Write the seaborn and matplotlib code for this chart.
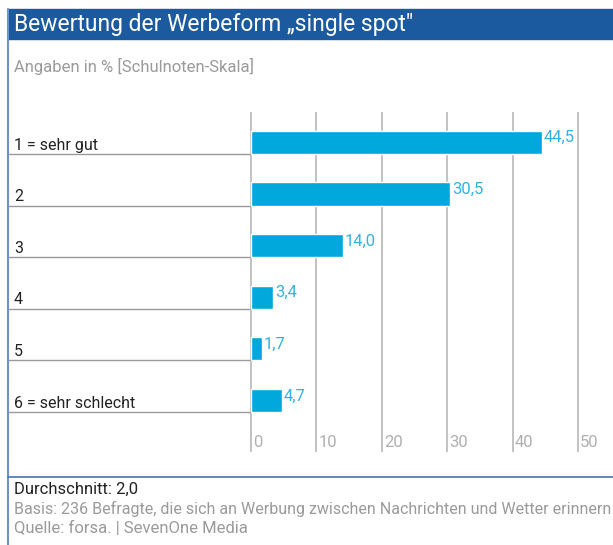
import matplotlib
matplotlib.use("Agg")
import matplotlib.pyplot as plt
import matplotlib.transforms as mtransforms
from matplotlib.patches import Rectangle
from matplotlib.lines import Line2D
import seaborn as sns
import pandas as pd

# data
noten = ["1 = sehr gut", "2", "3", "4", "5", "6 = sehr schlecht"]
anteile = [44.5, 30.5, 14.0, 3.4, 1.7, 4.7]
ticks = [0, 10, 20, 30, 40, 50]

titel = "Bewertung der Werbeform \u201esingle spot\""
untertitel = "Angaben in % [Schulnoten-Skala]"
durchschnitt = "Durchschnitt: 2,0"
basis = "Basis: 236 Befragte, die sich an Werbung zwischen Nachrichten und Wetter erinnern"
quelle = "Quelle: forsa. | SevenOne Media"

sns.set_style("white")
plt.rcParams["font.family"] = ["Roboto", "DejaVu Sans"]

W, H = 613, 545
fig = plt.figure(figsize=(W / 100, H / 100), dpi=100)

bar_col = "#00a8dc"
val_col = "#34b2e4"
band_col = "#1b5a9f"
frame_col = "#6f92cc"

# pixel helpers
def fx(px):
    return px / W

def fy(py):
    return 1 - py / H

# axes: x=0 at px 251, x=50 at px 578
x0_px, x50_px = 251, 578
scale = (x50_px - x0_px) / 50.0
left_px, right_px = 8, W
top_px, bot_px = 112, 452
ax = fig.add_axes([fx(left_px), fy(bot_px), fx(right_px - left_px), (bot_px - top_px) / H])

df = pd.DataFrame({"note": noten, "anteil": anteile})
sns.barplot(data=df, x="anteil", y="note", orient="h", color=bar_col,
            width=0.45, saturation=1, ax=ax, zorder=3)

ax.set_xlim((left_px - x0_px) / scale, (right_px - x0_px) / scale)
ax.set_ylim(5.998, -0.59)
for s in ax.spines.values():
    s.set_visible(False)
ax.set_xticks([])
ax.set_yticks([])
ax.set_xlabel("")
ax.set_ylabel("")

# vertical grid lines and tick labels
tr = mtransforms.blended_transform_factory(ax.transData, ax.transAxes)
for t in ticks:
    ax.axvline(t, ymin=0, ymax=1, color="#c2c2c2", lw=1.4, zorder=1)
    ax.text(t + 0.35, 0.028, str(t), transform=tr, color="#b0b0b0",
            fontsize=12, ha="left", va="center")

# category labels and separator lines
lab_x = (14 - x0_px) / scale
for i, (n, v) in enumerate(zip(noten, anteile)):
    ax.plot([(left_px - x0_px) / scale, 0], [i + 0.225, i + 0.225],
            color="#9a9a9a", lw=1.0, zorder=2, solid_capstyle="butt")
    ax.text(lab_x, i + 0.05, n, color="#222222", fontsize=11.5,
            ha="left", va="center")
    ax.text(v + 0.3, i - 0.09, f"{v:.1f}".replace(".", ","), color=val_col,
            fontsize=12, ha="left", va="center")

# title band and frame
fig.patches.append(Rectangle((fx(8), fy(39)), 1 - fx(8), (39 - 9) / H,
                             transform=fig.transFigure, color=band_col, zorder=0))
fig.lines.append(Line2D([fx(8), fx(8)], [fy(9), 0], transform=fig.transFigure,
                        color=frame_col, lw=1.5))
fig.lines.append(Line2D([fx(8), 1], [fy(477), fy(477)], transform=fig.transFigure,
                        color="#4a72b0", lw=1.2))

fig.text(fx(14), fy(25), titel, color="white", fontsize=16.5, ha="left", va="center")
fig.text(fx(14), fy(66), untertitel, color="#9a9a9a", fontsize=12, ha="left", va="center")
fig.text(fx(14), fy(489), durchschnitt, color="#222222", fontsize=12, ha="left", va="center")
fig.text(fx(14), fy(509), basis, color="#9a9a9a", fontsize=11.5, ha="left", va="center")
fig.text(fx(14), fy(528), quelle, color="#9a9a9a", fontsize=12, ha="left", va="center")

fig.savefig("out.png", dpi=100)
